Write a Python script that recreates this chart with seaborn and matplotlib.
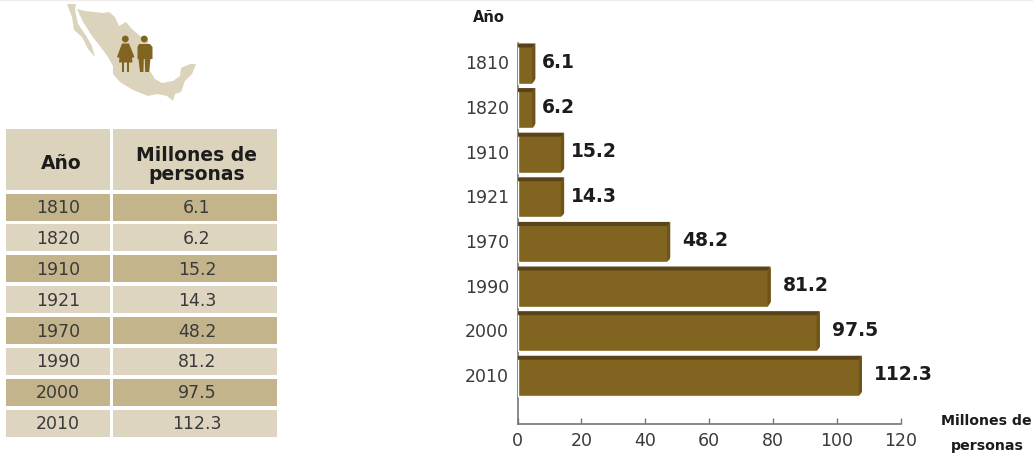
import matplotlib
matplotlib.use("Agg")
import matplotlib.pyplot as plt
from matplotlib.patches import Rectangle, Polygon, Circle
from matplotlib.transforms import ScaledTranslation
import pandas as pd
import seaborn as sns

# datos de la grafica
anios = ["1810", "1820", "1910", "1921", "1970", "1990", "2000", "2010"]
millones = [6.1, 6.2, 15.2, 14.3, 48.2, 81.2, 97.5, 112.3]
# largo dibujado de cada barra, leido contra el eje (no coincide del todo con la etiqueta)
largo_barra = [5.6, 5.6, 14.6, 14.6, 47.8, 79.2, 94.6, 107.8]
ticks_x = [0, 20, 40, 60, 80, 100, 120]

CAFE = "#80641f"
CAFE_OSCURO = "#59431a"
CAFE_LADO = "#6e5419"
BEIGE = "#dbd3bb"
BEIGE_OSCURO = "#c4b48c"
BEIGE_CLARO = "#ddd5c0"
TEXTO = "#3a3a3a"
NEGRO = "#1c1c1c"

sns.set_theme(style="white")
plt.rcParams["font.family"] = ["DejaVu Sans"]

W, H = 1033, 456
fig = plt.figure(figsize=(W / 100, H / 100), dpi=100)

# capa de fondo en pixeles: mapa, tabla y titulos
fondo = fig.add_axes([0, 0, 1, 1])
fondo.set_xlim(0, W)
fondo.set_ylim(H, 0)
fondo.axis("off")
fondo.plot([0, W], [0.5, 0.5], color="#eeeeee", lw=1)

# contorno de Mexico, trazado a mano
continente = [(77, 10), (85, 12), (103, 14), (109, 13), (115, 18), (119, 27), (126, 23), (132, 30),
              (140, 37), (148, 40), (149, 57), (150, 72), (155, 80), (162, 84), (173, 82), (180, 77),
              (181, 69), (190, 65), (196, 65), (192, 75), (185, 82), (181, 93), (175, 95), (173, 102),
              (167, 97), (157, 95), (148, 97), (133, 91), (120, 83), (113, 75), (113, 67), (108, 58),
              (100, 47), (92, 37), (83, 23)]
baja = [(67, 5), (72, 18), (74, 31), (82, 38), (88, 50), (95, 58), (92, 47), (85, 35), (78, 25), (75, 11), (76, 5)]
fondo.add_patch(Polygon(continente, closed=True, color=BEIGE, lw=0))
fondo.add_patch(Polygon(baja, closed=True, color=BEIGE, lw=0))

# figuras de mujer y hombre
fondo.add_patch(Circle((125.3, 40), 3.4, color=CAFE, lw=0))
fondo.add_patch(Polygon([(122, 44.5), (129, 44.5), (134.5, 58), (132, 59), (132.5, 63.5), (119, 63.5),
                         (119.5, 59), (117, 58)], closed=True, color=CAFE, lw=0))
fondo.add_patch(Rectangle((121.7, 63), 2.4, 10, color=CAFE, lw=0))
fondo.add_patch(Rectangle((126.7, 63), 2.4, 10, color=CAFE, lw=0))
fondo.add_patch(Circle((144.3, 40), 3.4, color=CAFE, lw=0))
fondo.add_patch(Polygon([(139, 45), (150, 45), (152.5, 48), (152.5, 60), (150.5, 60), (149, 73), (145.2, 73),
                         (144.8, 60), (143.8, 60), (143.4, 73), (140, 73), (138.5, 60), (137.5, 60), (137.5, 48)],
                        closed=True, color=CAFE, lw=0))

# tabla
col1, col2 = (6, 104), (113, 164)
fondo.add_patch(Rectangle((col1[0], 130), col1[1], 61, color=BEIGE, lw=0))
fondo.add_patch(Rectangle((col2[0], 130), col2[1], 61, color=BEIGE, lw=0))
fondo.text(61, 164, "Año", ha="center", va="center", fontsize=13.5, fontweight="bold", color=NEGRO)
fondo.text(197, 165, "Millones de\npersonas", ha="center", va="center", fontsize=13.5,
           fontweight="bold", color=NEGRO, linespacing=0.95)
for i, (anio, valor) in enumerate(zip(anios, millones)):
    y = 194.5 + i * 30.9
    color = BEIGE_OSCURO if i % 2 == 0 else BEIGE_CLARO
    fondo.add_patch(Rectangle((col1[0], y), col1[1], 27, color=color, lw=0))
    fondo.add_patch(Rectangle((col2[0], y), col2[1], 27, color=color, lw=0))
    fondo.text(58, y + 13.5, anio, ha="center", va="center", fontsize=12.5, color=TEXTO)
    fondo.text(197, y + 13.5, f"{valor:.1f}", ha="center", va="center", fontsize=12.5, color=TEXTO)

fondo.text(488.5, 17, "Año", ha="center", va="center", fontsize=10.5, fontweight="bold", color=NEGRO)
fondo.text(941, 421, "Millones de", ha="left", va="center", fontsize=10.2, fontweight="bold", color=NEGRO)
fondo.text(987, 446, "personas", ha="center", va="center", fontsize=10.2, fontweight="bold", color=NEGRO)

# grafica de barras
izq, der, arriba, abajo = 517.5, 901, 44, 425
ax = fig.add_axes([izq / W, 1 - abajo / H, (der - izq) / W, (abajo - arriba) / H])
ax.patch.set_alpha(0)
df = pd.DataFrame({"anio": anios, "largo": largo_barra})
sns.barplot(data=df, y="anio", x="largo", order=anios, color=CAFE, saturation=1, width=0.9, ax=ax)
ax.set_xlim(0, 120)
ax.set_ylim(8.08, -0.46)
ax.set_xlabel("")
ax.set_ylabel("")
ax.set_xticks(ticks_x)
ax.tick_params(axis="x", direction="in", length=4.5, width=1, color="#777777", labelsize=12.5,
               labelcolor=TEXTO, pad=5, bottom=True)
ax.tick_params(axis="y", length=0, labelsize=12.5, labelcolor=TEXTO, pad=6)
sns.despine(ax=ax, top=True, right=True)
for lado in ["left", "bottom"]:
    ax.spines[lado].set_color("#777777")
    ax.spines[lado].set_linewidth(1.2)
ax.spines["left"].set_zorder(0.5)

# las etiquetas de anio van un poco mas arriba
subir = ScaledTranslation(0, 1.5 / 72, fig.dpi_scale_trans)
for etiqueta in ax.get_yticklabels():
    etiqueta.set_transform(etiqueta.get_transform() + subir)

# relieve de cada barra: franja oscura arriba, lado derecho y esquina cortada
for barra, valor in zip(ax.patches, millones):
    x0, y0 = barra.get_x(), barra.get_y()
    ancho, alto = barra.get_width(), barra.get_height()
    ax.add_patch(Polygon([(x0, y0), (ancho, y0), (ancho - 1, y0 + 0.09), (x0, y0 + 0.09)],
                         closed=True, color=CAFE_OSCURO, lw=0, zorder=3))
    ax.add_patch(Polygon([(ancho - 1, y0 + 0.09), (ancho, y0), (ancho, y0 + alto - 0.1), (ancho - 1, y0 + alto - 0.03)],
                         closed=True, color=CAFE_LADO, lw=0, zorder=3))
    ax.add_patch(Polygon([(ancho + 0.2, y0 + alto - 0.1), (ancho + 0.2, y0 + alto + 0.02), (ancho - 1.2, y0 + alto + 0.02)],
                         closed=True, color="white", lw=0, zorder=3))
    separacion = 5 if ancho < 20 else 8.5
    ax.annotate(f"{valor:.1f}", (ancho, y0 + alto / 2), xytext=(separacion, 1.5), textcoords="offset points",
                ha="left", va="center", fontsize=13.5, fontweight="bold", color=NEGRO)

fig.savefig("out.png", dpi=100)
